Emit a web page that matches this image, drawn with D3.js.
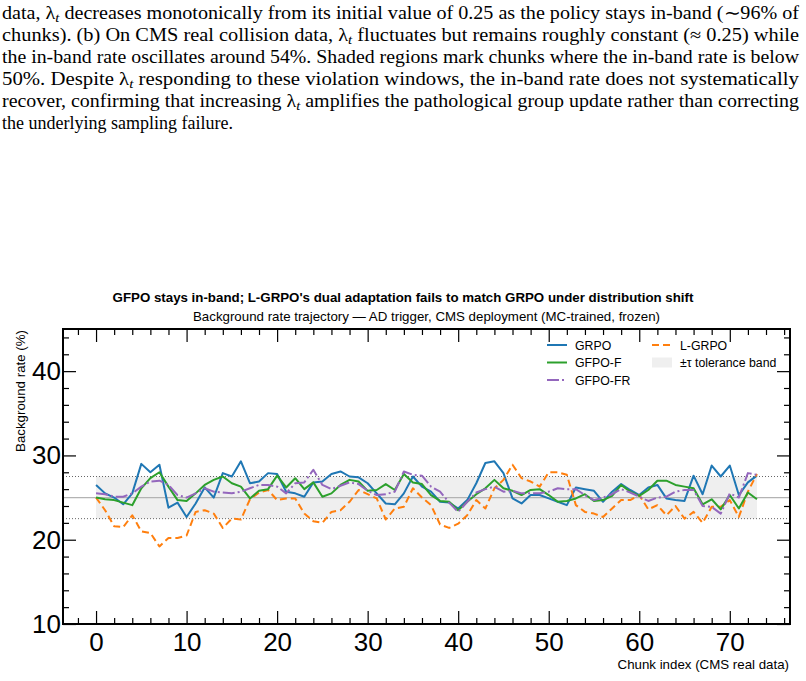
<!DOCTYPE html>
<html>
<head>
<meta charset="utf-8">
<script src="https://cdn.jsdelivr.net/npm/d3@7"></script>
<style>
  body { margin: 0; background: #fff; }
  svg { display: block; }
</style>
</head>
<body>
<div id="chart"></div>
<script>
// caption lines above the figure (last line is not justified)
const captionLines = [
  ["data, ", "λ", "t", " decreases monotonically from its initial value of 0.25 as the policy stays in-band (∼96% of"],
  ["chunks). (b) On CMS real collision data, ", "λ", "t", " fluctuates but remains roughly constant (≈ 0.25) while"],
  ["the in-band rate oscillates around 54%. Shaded regions mark chunks where the in-band rate is below"],
  ["50%. Despite ", "λ", "t", " responding to these violation windows, the in-band rate does not systematically"],
  ["recover, confirming that increasing ", "λ", "t", " amplifies the pathological group update rather than correcting"],
  ["the underlying sampling failure."]
];

const chunks = d3.range(0, 74);

const grpo = [26.5, 25.5, 25.0, 24.2, 25.5, 29.0, 28.0, 28.9, 23.8, 24.4,
  22.7, 24.3, 26.2, 25.0, 27.9, 27.5, 29.3, 26.7, 26.9, 27.9,
  27.8, 25.7, 25.5, 25.1, 26.8, 26.9, 27.8, 28.1, 27.5, 27.4,
  26.7, 25.5, 24.3, 24.2, 25.5, 27.5, 26.3, 25.7, 24.5, 24.4,
  23.7, 24.7, 26.7, 29.1, 29.3, 27.9, 24.9, 24.3, 25.3, 25.3,
  24.9, 24.5, 24.1, 26.2, 26.0, 25.8, 24.5, 25.7, 26.6, 25.9,
  25.3, 26.2, 26.5, 24.9, 24.7, 24.6, 27.6, 25.4, 28.8, 27.5,
  28.8, 25.3, 26.8, 27.6];

const lgrpo = [25.0, 23.5, 21.6, 21.5, 22.9, 21.0, 20.8, 19.2, 20.2, 20.2,
  20.5, 23.3, 23.5, 23.1, 21.4, 22.5, 22.4, 24.8, 25.6, 25.9,
  24.7, 24.9, 24.9, 23.1, 22.2, 22.0, 23.3, 23.5, 24.5, 25.9,
  25.4, 24.9, 22.4, 23.7, 23.9, 26.1, 25.0, 24.1, 21.8, 21.4,
  21.9, 22.9, 24.7, 23.7, 26.1, 27.1, 28.9, 27.3, 26.9, 26.3,
  28.0, 28.0, 27.7, 24.1, 23.3, 23.1, 22.7, 23.7, 24.7, 24.7,
  25.3, 23.6, 24.1, 22.9, 24.0, 22.5, 23.3, 22.0, 23.9, 23.9,
  24.7, 22.7, 25.7, 27.8];

const gfpoF = [25.0, 24.8, 24.7, 24.4, 24.1, 26.1, 27.3, 28.0, 26.3, 24.7,
  24.6, 25.5, 26.5, 27.1, 27.5, 26.7, 26.3, 24.9, 25.8, 26.0,
  27.6, 26.2, 27.3, 26.0, 26.8, 25.1, 25.5, 26.5, 27.1, 26.9,
  25.8, 25.9, 26.6, 25.9, 27.8, 26.8, 26.6, 25.3, 24.6, 24.5,
  23.5, 24.5, 25.4, 26.1, 27.1, 26.1, 25.8, 25.3, 25.9, 26.0,
  25.3, 24.5, 24.6, 24.9, 25.4, 24.6, 24.7, 25.2, 26.5, 25.7,
  25.2, 25.9, 27.0, 27.0, 26.5, 26.3, 26.1, 24.2, 24.8, 23.6,
  25.3, 23.7, 25.6, 24.8];

const gfpoFR = [25.5, 25.4, 25.1, 25.1, 25.5, 26.3, 26.9, 27.0, 26.5, 25.3,
  25.0, 25.5, 26.1, 25.7, 25.6, 25.5, 25.7, 26.1, 26.5, 26.5,
  26.3, 25.5, 26.7, 26.8, 28.3, 26.5, 26.0, 26.4, 26.8, 26.6,
  25.8, 25.3, 25.4, 25.7, 28.1, 27.7, 27.6, 26.3, 25.7, 24.4,
  23.3, 24.5, 25.6, 26.0, 26.3, 25.7, 25.8, 25.5, 25.5, 25.5,
  25.7, 26.1, 26.0, 26.0, 25.3, 24.7, 25.0, 25.4, 26.0, 25.6,
  25.1, 24.6, 25.0, 25.1, 25.7, 25.9, 25.9, 24.0, 23.9, 23.1,
  25.5, 25.0, 27.9, 27.7];

const yTicks = [10, 20, 30, 40];
const xTicks = [0, 10, 20, 30, 40, 50, 60, 70];
const target = 25, tau = 2.5;

const series = [
  { name: "GRPO", values: grpo, color: "#1f77b4", dash: null },
  { name: "L-GRPO", values: lgrpo, color: "#ff7f0e", dash: "7,4" },
  { name: "GFPO-F", values: gfpoF, color: "#2ca02c", dash: null },
  { name: "GFPO-FR", values: gfpoFR, color: "#9467bd", dash: "12,3,2,3" }
];

const width = 806, height = 681;
const margin = { left: 63, right: 790, top: 329, bottom: 624 };

const svg = d3.select("#chart").append("svg")
  .attr("width", width)
  .attr("height", height)
  .style("font-family", "'Liberation Sans', Arial, sans-serif");

// caption
let cap = svg.append("g")
  .style("font-family", "'Liberation Serif', 'Times New Roman', serif")
  .style("font-size", "18px");

captionLines.forEach(function(parts, i) {
  let t = cap.append("text")
    .attr("x", 2)
    .attr("y", 19 + i * 22);
  if (i < captionLines.length - 1) {
    t.attr("textLength", 797).attr("lengthAdjust", "spacingAndGlyphs");
  }
  if (parts.length == 1) {
    t.text(parts[0]);
  } else {
    t.append("tspan").text(parts[0]);
    t.append("tspan").text(parts[1]);
    t.append("tspan").attr("dy", 3).style("font-style", "italic").style("font-size", "13px").text(parts[2]);
    t.append("tspan").attr("dy", -3).text(parts[3]);
  }
});

let x = d3.scaleLinear()
  .domain([-3.65, 76.65])
  .range([margin.left, margin.right]);

let y = d3.scaleLinear()
  .domain([10, 45])
  .range([margin.bottom, margin.top]);

// tolerance band
svg.append("rect")
  .attr("x", x(0))
  .attr("y", y(target + tau))
  .attr("width", x(73) - x(0))
  .attr("height", y(target - tau) - y(target + tau))
  .attr("fill", "#efefef");

svg.append("line")
  .attr("x1", margin.left).attr("x2", margin.right)
  .attr("y1", y(target)).attr("y2", y(target))
  .attr("stroke", "#b3b3b3")
  .attr("stroke-width", 1.3);

[target - tau, target + tau].forEach(function(v) {
  svg.append("line")
    .attr("x1", margin.left).attr("x2", margin.right)
    .attr("y1", y(v)).attr("y2", y(v))
    .attr("stroke", "#666")
    .attr("stroke-width", 1)
    .attr("stroke-dasharray", "1,2");
});

// lines
let line = d3.line()
  .x(function(d, i) { return x(chunks[i]); })
  .y(function(d) { return y(d); });

series.forEach(function(s) {
  svg.append("path")
    .datum(s.values)
    .attr("fill", "none")
    .attr("stroke", s.color)
    .attr("stroke-width", 2)
    .attr("stroke-linejoin", "round")
    .attr("stroke-dasharray", s.dash)
    .attr("d", line);
});

// axes, ticks pointing inwards on all sides
function styleAxis(g) {
  g.select(".domain").remove();
  g.selectAll(".tick line").attr("stroke", "#000").attr("stroke-width", 1.2);
  g.selectAll("text")
    .style("font-family", "'Liberation Sans', Arial, sans-serif")
    .style("font-size", "26px")
    .attr("fill", "#000");
}

let xMinor = d3.range(-2, 77, 2).filter(function(v) { return v % 10 != 0; });
let yMinor = d3.range(12, 45, 2).filter(function(v) { return v % 10 != 0; });

svg.append("g")
  .attr("transform", `translate(0,${margin.bottom})`)
  .call(d3.axisBottom(x).tickValues(xTicks).tickSize(-13).tickPadding(9).tickFormat(d3.format("d")))
  .call(styleAxis);
svg.append("g")
  .attr("transform", `translate(0,${margin.bottom})`)
  .call(d3.axisBottom(x).tickValues(xMinor).tickSize(-6).tickFormat(""))
  .call(styleAxis);
svg.append("g")
  .attr("transform", `translate(0,${margin.top})`)
  .call(d3.axisTop(x).tickValues(xTicks).tickSize(-13).tickFormat(""))
  .call(styleAxis);
svg.append("g")
  .attr("transform", `translate(0,${margin.top})`)
  .call(d3.axisTop(x).tickValues(xMinor).tickSize(-6).tickFormat(""))
  .call(styleAxis);

svg.append("g")
  .attr("transform", `translate(${margin.left},0)`)
  .call(d3.axisLeft(y).tickValues(yTicks).tickSize(-13).tickPadding(2).tickFormat(d3.format("d")))
  .call(styleAxis);
svg.append("g")
  .attr("transform", `translate(${margin.left},0)`)
  .call(d3.axisLeft(y).tickValues(yMinor).tickSize(-6).tickFormat(""))
  .call(styleAxis);
svg.append("g")
  .attr("transform", `translate(${margin.right},0)`)
  .call(d3.axisRight(y).tickValues(yTicks).tickSize(-13).tickFormat(""))
  .call(styleAxis);
svg.append("g")
  .attr("transform", `translate(${margin.right},0)`)
  .call(d3.axisRight(y).tickValues(yMinor).tickSize(-6).tickFormat(""))
  .call(styleAxis);

// frame
svg.append("rect")
  .attr("x", margin.left).attr("y", margin.top)
  .attr("width", margin.right - margin.left).attr("height", margin.bottom - margin.top)
  .attr("fill", "none")
  .attr("stroke", "#000")
  .attr("stroke-width", 2);

// titles
svg.append("text")
  .attr("x", width / 2).attr("y", 302)
  .attr("text-anchor", "middle")
  .style("font-size", "13.3px")
  .style("font-weight", "bold")
  .text("GFPO stays in-band; L-GRPO's dual adaptation fails to match GRPO under distribution shift");

svg.append("text")
  .attr("x", (margin.left + margin.right) / 2).attr("y", 321)
  .attr("text-anchor", "middle")
  .style("font-size", "13.3px")
  .text("Background rate trajectory — AD trigger, CMS deployment (MC-trained, frozen)");

svg.append("text")
  .attr("transform", `translate(25,${margin.top + 1}) rotate(-90)`)
  .attr("text-anchor", "end")
  .style("font-size", "13.3px")
  .text("Background rate (%)");

svg.append("text")
  .attr("x", margin.right - 1).attr("y", 669)
  .attr("text-anchor", "end")
  .style("font-size", "13.3px")
  .text("Chunk index (CMS real data)");

// legend
let legendItems = [
  { label: "GRPO", color: "#1f77b4", dash: null, col: 0, row: 0 },
  { label: "GFPO-F", color: "#2ca02c", dash: null, col: 0, row: 1 },
  { label: "GFPO-FR", color: "#9467bd", dash: "12,3,2,3", col: 0, row: 2 },
  { label: "L-GRPO", color: "#ff7f0e", dash: "7,4", col: 1, row: 0 },
  { label: "±τ tolerance band", color: "#efefef", patch: true, col: 1, row: 1 }
];

let legend = svg.append("g").style("font-size", "12.3px");
legendItems.forEach(function(d) {
  let lx = 547 + d.col * 105;
  let ly = 345 + d.row * 17.5;
  if (d.patch) {
    legend.append("rect")
      .attr("x", lx).attr("y", ly - 5)
      .attr("width", 20).attr("height", 10)
      .attr("fill", d.color);
  } else {
    legend.append("line")
      .attr("x1", lx).attr("x2", lx + 20)
      .attr("y1", ly).attr("y2", ly)
      .attr("stroke", d.color)
      .attr("stroke-width", 2)
      .attr("stroke-dasharray", d.dash);
  }
  legend.append("text")
    .attr("x", lx + 28).attr("y", ly + 4.5)
    .text(d.label);
});
</script>
</body>
</html>
